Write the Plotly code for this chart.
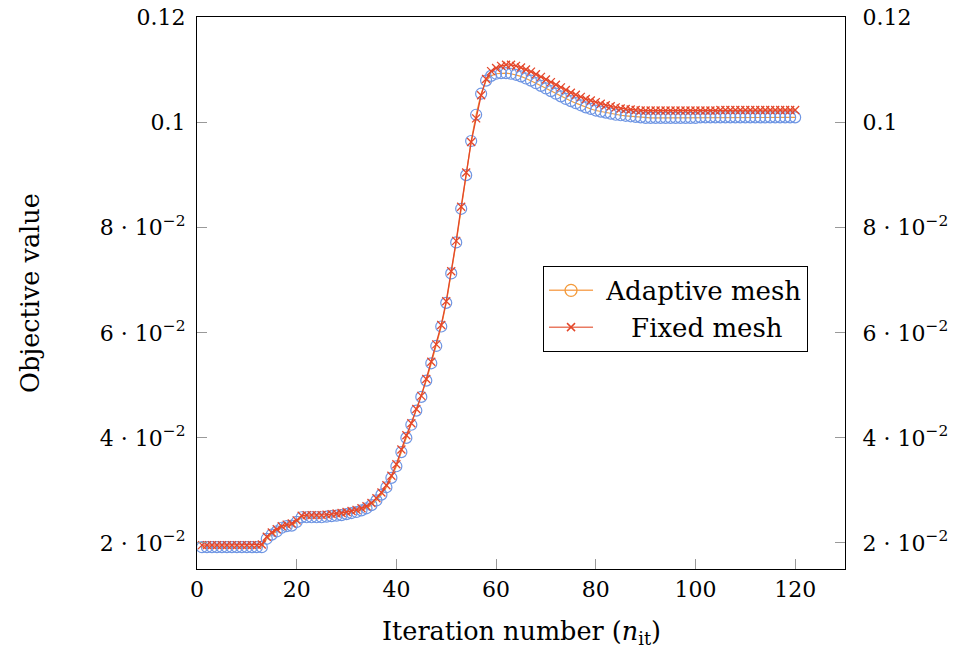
import plotly.graph_objects as go

iterations = list(range(1, 121))

adaptive_mesh = [
    0.0192, 0.0192, 0.0192, 0.0192, 0.0192, 0.0192, 0.0192, 0.0192, 0.0192, 0.0192,
    0.0192, 0.0192, 0.0192, 0.0208, 0.0216, 0.0222, 0.0229, 0.0232, 0.0233, 0.0240,
    0.0249, 0.0249, 0.0249, 0.0249, 0.0249, 0.0250, 0.0251, 0.0252, 0.0253, 0.0255,
    0.0257, 0.0259, 0.0262, 0.0266, 0.0272, 0.0281, 0.0292, 0.0306, 0.0324, 0.0346,
    0.0373, 0.0400, 0.0425, 0.0452, 0.0478, 0.0509, 0.0542, 0.0575, 0.0612, 0.0657,
    0.0713, 0.0772, 0.0836, 0.0900, 0.0965, 0.1015, 0.1055, 0.1080, 0.1089, 0.1093,
    0.1094, 0.1094, 0.1093, 0.1091, 0.1088, 0.1084, 0.1080, 0.1075, 0.1070, 0.1065,
    0.1060, 0.1055, 0.1050, 0.1045, 0.1041, 0.1037, 0.1033, 0.1029, 0.1026, 0.1023,
    0.1021, 0.1019, 0.1017, 0.1015, 0.1014, 0.1013, 0.1012, 0.1011, 0.1010, 0.1009,
    0.1009, 0.1009, 0.1009, 0.1009, 0.1009, 0.1009, 0.1009, 0.1009, 0.1009, 0.1009,
    0.1010, 0.1010, 0.1010, 0.1010, 0.1010, 0.1010, 0.1010, 0.1010, 0.1010, 0.1010,
    0.1010, 0.1010, 0.1010, 0.1010, 0.1010, 0.1010, 0.1010, 0.1010, 0.1010, 0.1010,
]

fixed_mesh = [
    0.0196, 0.0196, 0.0196, 0.0196, 0.0196, 0.0196, 0.0196, 0.0196, 0.0196, 0.0196,
    0.0196, 0.0196, 0.0197, 0.0212, 0.0220, 0.0226, 0.0232, 0.0235, 0.0237, 0.0243,
    0.0252, 0.0253, 0.0253, 0.0253, 0.0253, 0.0254, 0.0255, 0.0256, 0.0257, 0.0259,
    0.0261, 0.0263, 0.0266, 0.0270, 0.0276, 0.0285, 0.0296, 0.0310, 0.0328, 0.0350,
    0.0378, 0.0405, 0.0428, 0.0455, 0.0480, 0.0512, 0.0545, 0.0578, 0.0615, 0.0660,
    0.0717, 0.0775, 0.0840, 0.0905, 0.0963, 0.1008, 0.1052, 0.1083, 0.1098, 0.1104,
    0.1108, 0.1110, 0.1110, 0.1108, 0.1105, 0.1101, 0.1097, 0.1092, 0.1087, 0.1082,
    0.1077, 0.1072, 0.1067, 0.1062, 0.1057, 0.1053, 0.1049, 0.1045, 0.1042, 0.1039,
    0.1036, 0.1033, 0.1031, 0.1029, 0.1027, 0.1026, 0.1025, 0.1024, 0.1023, 0.1023,
    0.1023, 0.1023, 0.1023, 0.1023, 0.1023, 0.1023, 0.1023, 0.1023, 0.1023, 0.1023,
    0.1023, 0.1023, 0.1023, 0.1023, 0.1024, 0.1024, 0.1024, 0.1024, 0.1024, 0.1024,
    0.1024, 0.1024, 0.1024, 0.1024, 0.1024, 0.1024, 0.1024, 0.1024, 0.1024, 0.1024,
]

x_ticks = [0, 20, 40, 60, 80, 100, 120]
y_tickvals = [0.02, 0.04, 0.06, 0.08, 0.10, 0.12]
y_ticktext = ["2 · 10<sup>−2</sup>", "4 · 10<sup>−2</sup>", "6 · 10<sup>−2</sup>",
              "8 · 10<sup>−2</sup>", "0.1", "0.12"]

X_RANGE = [0, 130]
Y_RANGE = [0.01505, 0.1201]

FONT = "DejaVu Serif"
BLUE = "#6f96e3"
RED = "#e4472a"
ORANGE = "#f39a3a"

fig = go.Figure()

fig.add_trace(go.Scatter(
    x=iterations, y=adaptive_mesh, mode="lines+markers",
    line=dict(color=ORANGE, width=1.2),
    marker=dict(symbol="circle-open", size=11, color=BLUE, line=dict(width=1.2, color=BLUE)),
    showlegend=False, name="Adaptive mesh",
))
fig.add_trace(go.Scatter(
    x=iterations, y=fixed_mesh, mode="lines+markers", yaxis="y2",
    line=dict(color=RED, width=1.3),
    marker=dict(symbol="x-thin-open", size=8, color=RED, line=dict(width=1.3, color=RED)),
    showlegend=False, name="Fixed mesh",
))

# legend entries
fig.add_trace(go.Scatter(
    x=[None], y=[None], mode="lines+markers", name="\u00a0Adaptive mesh",
    line=dict(color="#f7a85e", width=1.5),
    marker=dict(symbol="circle-open", size=12, color=ORANGE, line=dict(width=1.3, color=ORANGE)),
))
fig.add_trace(go.Scatter(
    x=[None], y=[None], mode="lines+markers", name="\u00a0\u00a0\u00a0\u00a0Fixed mesh", yaxis="y2",
    line=dict(color="#e97a62", width=1.5),
    marker=dict(symbol="x-thin-open", size=8, color=RED, line=dict(width=1.5, color=RED)),
))

tickfont = dict(family=FONT, size=22, color="black")

fig.update_layout(
    width=954, height=653,
    margin=dict(l=197, r=109, t=17, b=84, autoexpand=False),
    paper_bgcolor="white", plot_bgcolor="white",
    font=dict(family=FONT, size=22, color="black"),
    xaxis=dict(
        range=X_RANGE, tickvals=x_ticks, ticktext=[str(v) for v in x_ticks],
        ticks="inside", ticklen=10, tickcolor="#999999", tickwidth=1,
        showline=True, linecolor="black", linewidth=1.3, mirror=True,
        showgrid=False, zeroline=False, tickfont=tickfont, automargin=False,
    ),
    yaxis=dict(
        range=Y_RANGE, tickvals=y_tickvals, ticktext=y_ticktext,
        ticks="inside", ticklen=10, tickcolor="#999999", tickwidth=1,
        showline=True, linecolor="black", linewidth=1.3,
        showgrid=False, zeroline=False, tickfont=tickfont, ticklabelstandoff=6,
        automargin=False,
    ),
    yaxis2=dict(
        range=Y_RANGE, tickvals=y_tickvals, ticktext=y_ticktext,
        overlaying="y", side="right",
        ticks="inside", ticklen=10, tickcolor="#999999", tickwidth=1,
        showline=True, linecolor="black", linewidth=1.3,
        showgrid=False, zeroline=False, tickfont=tickfont, ticklabelstandoff=12,
        automargin=False,
    ),
    legend=dict(
        x=0.534, y=0.549, xanchor="left", yanchor="top",
        bgcolor="white", bordercolor="black", borderwidth=1,
        font=dict(family=FONT, size=26, color="black"),
        traceorder="normal", itemwidth=44, tracegroupgap=0,
    ),
    annotations=[
        dict(text="Iteration number (<i>n</i><sub>it</sub>)", xref="paper", yref="paper",
             x=0.5, y=0, yshift=-63, xanchor="center", yanchor="middle", showarrow=False,
             font=dict(family=FONT, size=25.5, color="black")),
        dict(text="Objective value", xref="paper", yref="paper",
             x=0, y=0.5, xshift=-167, xanchor="center", yanchor="middle", showarrow=False,
             textangle=-90, font=dict(family=FONT, size=25.5, color="black")),
    ],
)

fig.write_html("out.html")
